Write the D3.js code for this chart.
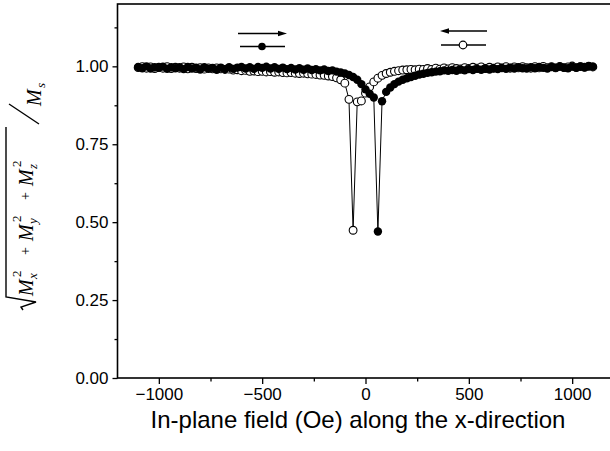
<!DOCTYPE html>
<html>
<head>
<meta charset="utf-8">
<script src="https://cdn.jsdelivr.net/npm/d3@7"></script>
<style>
  body { margin: 0; background: #fff; }
  svg { display: block; }
  text { font-family: "Liberation Sans", Arial, sans-serif; fill: #000; }
  .serif { font-family: "Liberation Serif", "Times New Roman", serif; }
</style>
</head>
<body>
<div id="container"></div>
<script>
// field values (Oe)
const fields = [
  -1100,-1080,-1060,-1040,-1020,-1000,-980,-960,-940,-920,
  -900,-880,-860,-840,-820,-800,-780,-760,-740,-720,
  -700,-680,-660,-640,-620,-600,-580,-560,-540,-520,
  -500,-480,-460,-440,-420,-400,-380,-360,-340,-320,
  -300,-280,-260,-240,-220,-200,-180,-160,-140,-120,
  -100,-80,-60,-40,-20,0,20,40,60,80,
  100,120,140,160,180,200,220,240,260,280,
  300,320,340,360,380,400,420,440,460,480,
  500,520,540,560,580,600,620,640,660,680,
  700,720,740,760,780,800,820,840,860,880,
  900,920,940,960,980,1000,1020,1040,1060,1080,
  1100
];

// sweep from negative to positive field (filled circles)
const sweepUp = [
  0.998,0.994,1.000,0.993,0.997,0.995,0.999,0.992,0.997,0.994,
  0.997,0.991,0.998,0.993,0.996,0.990,0.997,0.992,0.995,0.989,
  0.996,0.991,0.997,0.992,0.996,0.998,0.993,0.997,0.992,0.998,
  0.995,0.999,0.993,0.997,0.992,0.996,0.991,0.995,0.990,0.994,
  0.989,0.993,0.988,0.991,0.987,0.990,0.985,0.987,0.983,0.980,
  0.977,0.972,0.966,0.957,0.943,0.926,0.912,0.900,0.470,0.888,
  0.918,0.932,0.943,0.951,0.957,0.962,0.966,0.970,0.974,0.976,
  0.979,0.981,0.983,0.984,0.987,0.986,0.988,0.986,0.990,0.987,
  0.991,0.988,0.992,0.989,0.993,0.990,0.994,0.991,0.995,0.992,
  0.996,0.993,0.997,0.994,0.993,0.997,0.994,0.998,0.995,0.993,
  0.998,0.995,0.999,0.996,0.994,0.999,0.996,1.000,0.997,1.001,
  0.999
];

// sweep from positive to negative field (open circles)
const sweepDown = [
  0.996,0.999,0.994,0.998,0.993,0.997,0.994,0.999,0.993,0.997,
  0.994,0.998,0.992,0.997,0.993,0.996,0.991,0.995,0.992,0.995,
  0.992,0.990,0.991,0.988,0.989,0.986,0.987,0.984,0.985,0.983,
  0.984,0.982,0.983,0.981,0.982,0.980,0.979,0.980,0.978,0.977,
  0.978,0.976,0.975,0.974,0.972,0.971,0.969,0.967,0.963,0.957,
  0.946,0.894,0.474,0.886,0.889,0.914,0.934,0.950,0.962,0.971,
  0.977,0.981,0.984,0.986,0.988,0.989,0.990,0.989,0.991,0.990,
  0.993,0.990,0.994,0.991,0.995,0.992,0.996,0.993,0.992,0.996,
  0.993,0.997,0.994,0.998,0.993,0.997,0.994,0.998,0.995,0.999,
  0.994,0.998,0.995,0.999,0.996,0.994,0.999,0.995,1.000,0.996,
  0.999,0.995,1.000,0.996,0.998,1.001,0.996,0.999,0.997,1.000,
  0.998
];

const xTicks = [-1000, -500, 0, 500, 1000];
const xMinor = [-750, -250, 250, 750];
const yTicks = [0, 0.25, 0.5, 0.75, 1.0];
const yMinor = [0.125, 0.375, 0.625, 0.875, 1.125];

const w = 610, h = 451;

const xScale = d3.scaleLinear().domain([-1200, 1200]).range([117.5, 613.5]);
const yScale = d3.scaleLinear().domain([0, 1.2]).range([378, 4]);

const svg = d3.select("#container").append("svg")
  .attr("width", w).attr("height", h);

// axes
const xAxis = d3.axisBottom(xScale).tickValues(xTicks).tickSize(6).tickPadding(4)
  .tickFormat(d3.format("d"));
const gx = svg.append("g").attr("transform", "translate(0," + yScale(0) + ")").call(xAxis);
gx.select(".domain").remove();
gx.selectAll("text").style("font-size", "17px").style("font-family", "Liberation Sans, Arial, sans-serif");
gx.selectAll("line").attr("stroke-width", 1.3);

svg.append("g").attr("transform", "translate(0," + yScale(0) + ")")
  .call(d3.axisBottom(xScale).tickValues(xMinor).tickSize(3.5).tickFormat(""))
  .call(g => g.select(".domain").remove())
  .selectAll("line").attr("stroke-width", 1.3);

const yAxis = d3.axisLeft(yScale).tickValues(yTicks).tickSize(5).tickPadding(4)
  .tickFormat(d3.format(".2f"));
const gy = svg.append("g").attr("transform", "translate(" + xScale(-1200) + ",0)").call(yAxis);
gy.select(".domain").remove();
gy.selectAll("text").style("font-size", "17px").style("font-family", "Liberation Sans, Arial, sans-serif");
gy.selectAll("line").attr("stroke-width", 1.3);

svg.append("g").attr("transform", "translate(" + xScale(-1200) + ",0)")
  .call(d3.axisLeft(yScale).tickValues(yMinor).tickSize(3).tickFormat(""))
  .call(g => g.select(".domain").remove())
  .selectAll("line").attr("stroke-width", 1.3);

// frame
svg.append("rect")
  .attr("x", xScale(-1200)).attr("y", yScale(1.2))
  .attr("width", xScale(1200) - xScale(-1200))
  .attr("height", yScale(0) - yScale(1.2))
  .attr("fill", "none").attr("stroke", "#000").attr("stroke-width", 1.6);

// data
const line = d3.line().x(d => xScale(d[0])).y(d => yScale(d[1]));
const downData = fields.map((f, i) => [f, sweepDown[i]]);
const upData = fields.map((f, i) => [f, sweepUp[i]]);

svg.append("path").datum(downData).attr("d", line)
  .attr("fill", "none").attr("stroke", "#000").attr("stroke-width", 1);
svg.append("g").selectAll("circle").data(downData).enter().append("circle")
  .attr("cx", d => xScale(d[0])).attr("cy", d => yScale(d[1])).attr("r", 3.9)
  .attr("fill", "#fff").attr("stroke", "#000").attr("stroke-width", 1.1);

svg.append("path").datum(upData).attr("d", line)
  .attr("fill", "none").attr("stroke", "#000").attr("stroke-width", 1);
svg.append("g").selectAll("circle").data(upData).enter().append("circle")
  .attr("cx", d => xScale(d[0])).attr("cy", d => yScale(d[1])).attr("r", 4.2)
  .attr("fill", "#000");

// legend: arrows and markers
function arrow(x1, x2, y) {
  const dir = x2 > x1 ? 1 : -1;
  svg.append("line").attr("x1", x1).attr("x2", x2 - dir * 6).attr("y1", y).attr("y2", y)
    .attr("stroke", "#000").attr("stroke-width", 1.5);
  svg.append("path")
    .attr("d", "M" + x2 + "," + y + "L" + (x2 - dir * 9) + "," + (y - 2.8) + "L" + (x2 - dir * 9) + "," + (y + 2.8) + "Z")
    .attr("fill", "#000");
}
arrow(238, 287, 33.5);
arrow(487, 440, 31);

svg.append("line").attr("x1", 240).attr("x2", 285).attr("y1", 46.5).attr("y2", 46.5)
  .attr("stroke", "#000").attr("stroke-width", 1.5);
svg.append("circle").attr("cx", 262).attr("cy", 46.5).attr("r", 3.8).attr("fill", "#000");
svg.append("line").attr("x1", 441).attr("x2", 486).attr("y1", 45).attr("y2", 45)
  .attr("stroke", "#000").attr("stroke-width", 1.5);
svg.append("circle").attr("cx", 463).attr("cy", 45).attr("r", 3.8)
  .attr("fill", "#fff").attr("stroke", "#000").attr("stroke-width", 1.2);

// x label
svg.append("text").attr("x", 358).attr("y", 428).attr("text-anchor", "middle")
  .style("font-size", "24px").text("In-plane field (Oe) along the x-direction");

// y label: sqrt(Mx^2 + My^2 + Mz^2) / Ms
const yl = svg.append("g").attr("transform", "translate(33,310) rotate(-90)");
yl.append("path").attr("d", "M0,-10 L3,-12 L8,3 L13,-27 L183,-27")
  .attr("fill", "none").attr("stroke", "#000").attr("stroke-width", 1.4);
function term(x0, sub) {
  yl.append("text").attr("class", "serif").attr("x", x0).attr("y", 0)
    .style("font-size", "20px").style("font-style", "italic").text("M");
  yl.append("text").attr("class", "serif").attr("x", x0 + 17).attr("y", 4)
    .style("font-size", "13px").style("font-style", "italic").text(sub);
  yl.append("text").attr("class", "serif").attr("x", x0 + 19).attr("y", -12)
    .style("font-size", "13px").text("2");
}
term(14, "x");
term(69, "y");
term(124, "z");
[55, 110].forEach(x0 => {
  yl.append("text").attr("class", "serif").attr("x", x0).attr("y", -3)
    .style("font-size", "14px").text("+");
});
yl.append("path").attr("d", "M186,6 L206,-24")
  .attr("fill", "none").attr("stroke", "#000").attr("stroke-width", 1.3);
yl.append("text").attr("class", "serif").attr("x", 204).attr("y", 8)
  .style("font-size", "20px").style("font-style", "italic").text("M");
yl.append("text").attr("class", "serif").attr("x", 222).attr("y", 12)
  .style("font-size", "13px").style("font-style", "italic").text("s");
</script>
</body>
</html>
